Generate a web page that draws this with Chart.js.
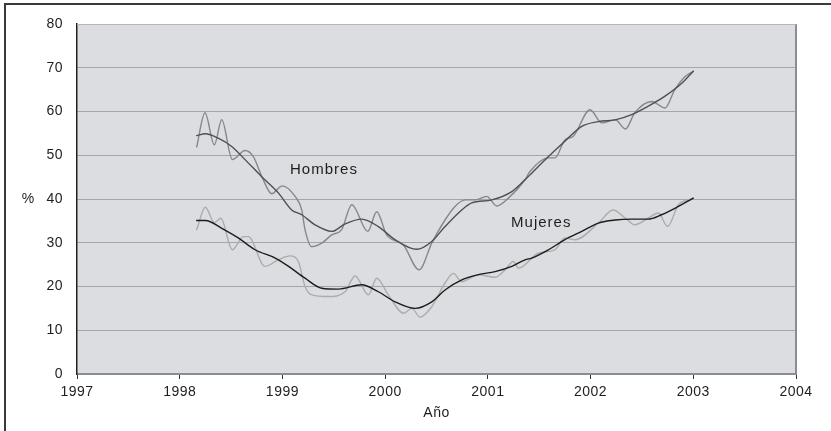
<!DOCTYPE html>
<html>
<head>
<meta charset="utf-8">
<script src="https://cdn.jsdelivr.net/npm/chart.js@4.4.1/dist/chart.umd.min.js"></script>
<style>
  html, body { margin: 0; padding: 0; background: #fff; }
  #wrap { position: relative; width: 831px; height: 431px; }
  #frame { position: absolute; left: 4px; top: 3px; right: -10px; bottom: -10px;
           border-left: 2px solid #3a3a3a; border-top: 2px solid #3a3a3a; }
  canvas { position: absolute; left: 0; top: 0; }
</style>
</head>
<body>
<div id="wrap">
  <div id="frame"></div>
  <canvas id="c" width="831" height="431"></canvas>
</div>
<script>
// ---- data ----
const xTickLabels = ['1997','1998','1999','2000','2001','2002','2003','2004'];
const yTickLabels = ['0','10','20','30','40','50','60','70','80'];
const seriesNames = ['Hombres', 'Mujeres'];

const hombresRawYears = [1998.165,1998.246,1998.337,1998.409,1998.512,1998.636,1998.717,1998.80,1998.896,1998.999,1999.123,1999.188,1999.22,1999.285,1999.383,1999.48,1999.577,1999.675,1999.831,1999.918,2000.015,2000.178,2000.33,2000.454,2000.583,2000.68,2000.778,2000.88,2000.989,2001.087,2001.2,2001.362,2001.41,2001.59,2001.654,2001.75,2001.83,2001.995,2002.11,2002.24,2002.34,2002.43,2002.596,2002.725,2002.82,2002.92,2003.0];
const hombresRaw = [51.9,59.7,52.4,58.1,49.0,51.1,49.7,45.1,41.2,43.0,40.6,37.5,33.0,29.1,29.9,31.8,33.0,38.7,32.6,37.1,31.8,29.5,23.8,29.9,35.2,38.3,39.8,39.8,40.6,38.4,40.2,44.4,46.3,49.4,49.4,53.5,54.3,60.4,57.4,58.1,56.0,59.7,62.3,60.8,65.0,68.0,69.2];

const hombresTrendYears = [1998.165,1998.25,1998.375,1998.506,1998.636,1998.798,1998.96,1999.09,1999.188,1999.317,1999.48,1999.61,1999.772,1999.934,2000.096,2000.308,2000.454,2000.583,2000.746,2000.843,2001.038,2001.233,2001.362,2001.427,2001.59,2001.75,2001.914,2002.076,2002.24,2002.4,2002.56,2002.725,2002.89,2003.0];
const hombresTrend = [54.5,54.9,53.9,52.0,49.0,45.1,41.4,37.5,36.4,34.1,32.6,34.3,35.4,33.7,30.7,28.5,30.3,33.7,37.5,39.1,39.8,41.7,44.4,45.9,49.7,53.2,56.6,57.7,58.1,59.3,61.2,63.5,66.5,69.2];

const mujeresRawYears = [1998.165,1998.25,1998.337,1998.40,1998.512,1998.62,1998.668,1998.83,1998.96,1999.074,1999.155,1999.22,1999.285,1999.447,1999.61,1999.707,1999.837,1999.918,2000.03,2000.18,2000.26,2000.34,2000.454,2000.583,2000.664,2000.746,2000.908,2001.07,2001.167,2001.248,2001.30,2001.49,2001.654,2001.75,2001.85,2002.076,2002.22,2002.34,2002.43,2002.56,2002.66,2002.75,2002.855,2002.95,2003.0];
const mujeresRaw = [33.0,38.1,34.6,35.6,28.4,31.4,31.4,24.6,26.1,27.0,25.7,20.0,18.1,17.7,18.8,22.4,18.1,21.9,18.1,13.9,15.0,13.0,15.4,20.8,23.0,21.1,22.7,22.1,23.8,25.7,24.2,27.6,28.4,31.1,30.7,34.5,37.5,35.6,34.1,35.6,36.8,33.7,38.7,39.8,40.2];

const mujeresTrendYears = [1998.165,1998.25,1998.41,1998.57,1998.733,1998.93,1999.06,1999.22,1999.383,1999.544,1999.772,1999.934,2000.096,2000.29,2000.454,2000.583,2000.746,2000.908,2001.07,2001.233,2001.362,2001.427,2001.59,2001.75,2001.914,2002.076,2002.24,2002.4,2002.56,2002.69,2002.855,2003.0];
const mujeresTrend = [35.1,35.1,33.3,31.1,28.4,26.5,24.6,21.9,19.6,19.4,20.4,18.8,16.5,15.0,16.5,19.2,21.5,22.7,23.4,24.6,26.1,26.5,28.4,30.7,32.6,34.5,35.2,35.4,35.4,36.4,38.3,40.2];

// label anchor positions (data units)
const labelPos = { Hombres: [1999.074, 46.7], Mujeres: [2001.226, 34.55] };

const toPts = (xs, ys) => xs.map((x, i) => ({ x: x, y: ys[i] }));
const FONT = '"Liberation Sans", Arial, Helvetica, sans-serif';

const decor = {
  id: 'decor',
  beforeDraw(chart) {
    const { ctx, chartArea: a } = chart;
    ctx.letterSpacing = '0.5px';
    ctx.save();
    ctx.fillStyle = '#dcdde0';
    ctx.fillRect(a.left, a.top, a.right - a.left, a.bottom - a.top);
    ctx.restore();
  },
  afterDraw(chart) {
    const { ctx, chartArea: a, scales } = chart;
    ctx.save();
    // right border
    ctx.strokeStyle = '#8a8d92';
    ctx.lineWidth = 2;
    ctx.beginPath();
    ctx.moveTo(a.right, a.top); ctx.lineTo(a.right, a.bottom + 1);
    ctx.stroke();
    // top edge
    ctx.strokeStyle = '#b4b6ba';
    ctx.lineWidth = 1;
    ctx.beginPath();
    ctx.moveTo(a.left, a.top + 0.5); ctx.lineTo(a.right, a.top + 0.5);
    ctx.stroke();
    // series labels
    ctx.fillStyle = '#1e1e1e';
    ctx.font = '15px ' + FONT;
    ctx.letterSpacing = '1px';
    ctx.textBaseline = 'middle';
    ctx.textAlign = 'left';
    seriesNames.forEach(n => {
      const p = labelPos[n];
      ctx.fillText(n, scales.x.getPixelForValue(p[0]), scales.y.getPixelForValue(p[1]));
    });
    // y axis title "%"
    ctx.font = '14px ' + FONT;
    ctx.letterSpacing = '0px';
    ctx.textAlign = 'center';
    ctx.fillText('%', a.left - 49, scales.y.getPixelForValue(40));
    ctx.restore();
  }
};

new Chart(document.getElementById('c'), {
  type: 'line',
  data: {
    datasets: [
      { label: 'Mujeres (tendencia)', data: toPts(mujeresTrendYears, mujeresTrend), borderColor: '#1c1c1c', borderWidth: 1.4, order: 1 },
      { label: 'Hombres (tendencia)', data: toPts(hombresTrendYears, hombresTrend), borderColor: '#4e4f52', borderWidth: 1.4, order: 2 },
      { label: 'Hombres', data: toPts(hombresRawYears, hombresRaw), borderColor: '#86878a', borderWidth: 1.4, order: 3 },
      { label: 'Mujeres', data: toPts(mujeresRawYears, mujeresRaw), borderColor: '#abacae', borderWidth: 1.4, order: 4 }
    ]
  },
  options: {
    responsive: false,
    animation: false,
    events: [],
    layout: { padding: { left: 0, top: 24, right: 35, bottom: 0 } },
    elements: {
      point: { radius: 0 },
      line: { cubicInterpolationMode: 'monotone', fill: false, borderCapStyle: 'round', borderJoinStyle: 'round' }
    },
    plugins: { legend: { display: false }, tooltip: { enabled: false } },
    scales: {
      x: {
        type: 'linear', min: 1997, max: 2004,
        afterFit: s => { s.height = 57; },
        afterBuildTicks: s => { s.ticks = xTickLabels.map(v => ({ value: Number(v) })); },
        ticks: { stepSize: 1, padding: 5, color: '#1e1e1e', font: { family: FONT, size: 14 },
                 callback: v => xTickLabels[xTickLabels.indexOf(String(v))], maxRotation: 0, autoSkip: false },
        grid: { drawOnChartArea: false, drawTicks: true, tickLength: 5, color: '#333', lineWidth: 1 },
        border: { display: true, color: '#8a8d92', width: 2 },
        title: { display: true, text: 'Año', color: '#1e1e1e', font: { family: FONT, size: 14 }, padding: { top: 0, bottom: 9 } }
      },
      y: {
        min: 0, max: 80,
        afterFit: s => { s.width = 77; },
        afterBuildTicks: s => { s.ticks = yTickLabels.map(v => ({ value: Number(v) })); },
        ticks: { stepSize: 10, padding: 14, color: '#1e1e1e', font: { family: FONT, size: 14 },
                 callback: v => yTickLabels[yTickLabels.indexOf(String(v))] },
        grid: { drawTicks: false, color: ctx => ctx.tick && (ctx.tick.value === 0) ? 'rgba(0,0,0,0)' : '#a4a5a8', lineWidth: 1 },
        border: { display: true, color: '#222', width: 1.5 }
      }
    }
  },
  plugins: [decor]
});
</script>
</body>
</html>
